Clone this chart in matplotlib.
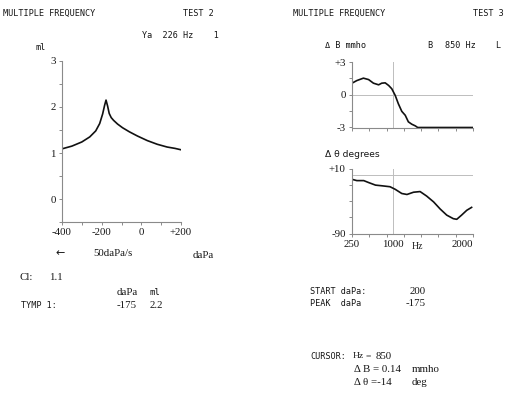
import matplotlib
matplotlib.use("Agg")
import matplotlib.pyplot as plt

W, H = 523, 393

# Timpanograma 226 Hz (TEST 2)
press = [-400, -350, -300, -260, -230, -210, -195, -185, -178, -170, -162, -152, -140, -120, -95, -60, -20, 30, 80, 130, 170, 200]
ml = [1.09, 1.15, 1.24, 1.35, 1.48, 1.64, 1.85, 2.04, 2.15, 2.02, 1.86, 1.77, 1.71, 1.63, 1.55, 1.46, 1.37, 1.27, 1.19, 1.13, 1.10, 1.07]
press_ticks = [-400, -300, -200, -100, 0, 100, 200]
press_labels = ["-400", "", "-200", "", "0", "", "+200"]

# Frecuencia multiple (TEST 3)
freq_b = [250, 320, 415, 490, 560, 635, 680, 730, 780, 825, 875, 920, 970, 1020, 1065, 1115, 1165, 1200, 2000]
delta_b = [1.06, 1.30, 1.52, 1.39, 1.06, 0.91, 1.06, 1.09, 0.85, 0.55, -0.06, -0.82, -1.52, -1.88, -2.48, -2.70, -2.85, -3.0, -3.0]
freq_t = [250, 320, 420, 490, 590, 680, 800, 875, 970, 1045, 1140, 1235, 1330, 1430, 1525, 1620, 1715, 1765, 1835, 1910, 1980]
delta_t = [-6, -8, -8, -11, -15, -16, -17.5, -21.5, -28, -29.5, -26, -25, -32, -41, -52, -61.5, -67, -68, -61.5, -54, -49.5]
cursor_hz = 850

INK = "#161616"
AX = "#8a8a8a"
GUIDE = "#bdbdbd"
MONO = "DejaVu Sans Mono"
SERIF = "Liberation Serif"

fig = plt.figure(figsize=(W / 100, H / 100), dpi=100)
fig.patch.set_facecolor("white")


def box(x0, y0, x1, y1):
    # caja en pixeles -> fraccion de figura
    return [x0 / W, 1 - y1 / H, (x1 - x0) / W, (y1 - y0) / H]


def txt(x, y, s, font=MONO, size=6.1, ha="left", **kw):
    fig.text(x / W, 1 - y / H, s, family=font, fontsize=size, color=INK,
             ha=ha, va="center", **kw)


def style(ax):
    for side in ["top", "right"]:
        ax.spines[side].set_visible(False)
    for side in ["left", "bottom"]:
        ax.spines[side].set_color(AX)
        ax.spines[side].set_linewidth(0.8)
    ax.tick_params(which="both", colors=AX, length=2.5, width=0.7, pad=2,
                   labelcolor=INK, labelsize=7.8)
    ax.tick_params(which="minor", length=2)
    for lab in ax.get_xticklabels() + ax.get_yticklabels():
        lab.set_family(SERIF)
    ax.set_facecolor("none")


# --- Panel izquierdo ---
ax1 = fig.add_axes(box(62, 61, 181, 222))
ax1.plot(press, ml, color="#111111", lw=1.2)
ax1.set_xlim(-400, 200)
ax1.set_ylim(-0.5, 3)
ax1.set_xticks(press_ticks)
ax1.set_xticklabels(press_labels)
ax1.set_yticks([0, 1, 2, 3])
ax1.set_yticks([-0.5, 0.5, 1.5, 2.5], minor=True)
style(ax1)

# --- Panel derecho: delta B ---
ax2 = fig.add_axes(box(352, 62, 473, 127.5))
ax2.axhline(0, color=GUIDE, lw=0.7)
ax2.axvline(cursor_hz, color=GUIDE, lw=0.7)
ax2.plot(freq_b, delta_b, color="#111111", lw=1.2)
ax2.set_xlim(250, 2000)
ax2.set_ylim(-3, 3)
ax2.set_xticks(range(250, 2001, 250))
ax2.set_xticklabels([])
ax2.set_yticks([-3, 0, 3])
ax2.set_yticklabels(["-3", "0", "+3"])
ax2.set_yticks([-1.5, 1.5], minor=True)
style(ax2)

# --- Panel derecho: delta theta ---
ax3 = fig.add_axes(box(352, 169, 473, 233.5))
ax3.axhline(0, color=GUIDE, lw=0.7)
ax3.axvline(cursor_hz, color=GUIDE, lw=0.7)
ax3.plot(freq_t, delta_t, color="#111111", lw=1.2)
ax3.set_xlim(250, 2000)
ax3.set_ylim(-90, 10)
ax3.set_xticks(range(250, 2001, 250))
ax3.set_xticklabels(["250", "", "", "1000", "", "", "", "2000"])
ax3.set_yticks([-90, 10])
ax3.set_yticklabels(["-90", "+10"])
ax3.set_yticks([-65, -40, -15], minor=True)
style(ax3)
xl = ax3.get_xticklabels()
xl[3].set_ha("right")
xl[7].set_ha("right")

# --- Textos izquierda ---
txt(3, 13.5, "MULTIPLE FREQUENCY")
txt(183, 14, "TEST 2")
txt(142, 35, "Ya  226 Hz    1")
txt(35, 47, "ml")
txt(55, 253, "\u2190", font="DejaVu Sans", size=8)
txt(93, 253, "50daPa/s", font=SERIF, size=7.8)
txt(193, 255, "daPa", font=SERIF, size=7.8)
txt(19, 278, "Cl:", font=SERIF, size=7.8)
txt(49, 278, "1.1", font=SERIF, size=7.8)
txt(117, 292.5, "daPa", font=SERIF, size=7.8)
txt(150, 292.5, "ml", font=MONO, size=6.5)
txt(21, 305, "TYMP 1:")
txt(117, 305, "-175", font=SERIF, size=7.8)
txt(150, 305, "2.2", font=SERIF, size=7.8)

# --- Textos derecha ---
txt(293, 13.5, "MULTIPLE FREQUENCY")
txt(473, 13.5, "TEST 3")
txt(325, 46, "\u0394 B mmho")
txt(427, 46, "B")
txt(445, 46, "850 Hz")
txt(495, 46, "L")
txt(325, 154, "\u0394 \u03b8 degrees", font="DejaVu Sans", size=6.6)
txt(412, 246.5, "Hz", font=SERIF, size=7)

txt(310, 291.5, "START daPa:")
txt(426, 291.5, "200", font=SERIF, size=7.8, ha="right")
txt(310, 304, "PEAK  daPa")
txt(426, 304, "-175", font=SERIF, size=7.8, ha="right")

txt(310, 356.5, "CURSOR:")
txt(353, 356.5, "Hz", font=SERIF, size=6.8)
txt(366, 356.5, "=", font=SERIF, size=6.8)
txt(376, 356.5, "850", font=SERIF, size=7.8)
txt(354, 369, "\u0394 B = 0.14", font=SERIF, size=7.8)
txt(412, 369, "mmho", font=SERIF, size=7.8)
txt(354, 382.5, "\u0394 \u03b8 =-14", font=SERIF, size=7.8)
txt(412, 382.5, "deg", font=SERIF, size=7.8)

fig.savefig("out.png", dpi=100, facecolor="white")
